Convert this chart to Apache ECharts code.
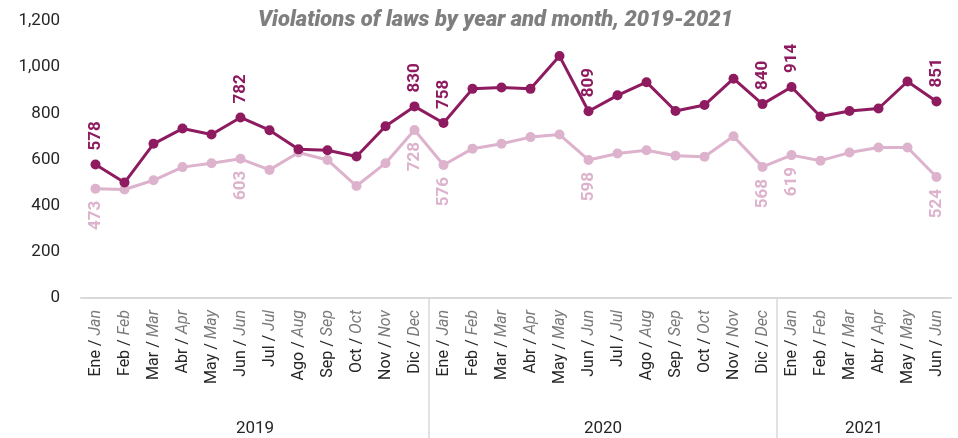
<!DOCTYPE html>
<html>
<head>
<meta charset="utf-8">
<script src="https://cdn.jsdelivr.net/npm/echarts@6/dist/echarts.min.js"></script>
<style>
html,body{margin:0;padding:0;background:#fff}
#chart{width:958px;height:438px}
</style>
</head>
<body>
<div id="chart"></div>
<script>
// meses (es / en) y años
var mesEs = ['Ene','Feb','Mar','Abr','May','Jun','Jul','Ago','Sep','Oct','Nov','Dic'];
var mesEn = ['Jan','Feb','Mar','Apr','May','Jun','Jul','Aug','Sep','Oct','Nov','Dec'];
var years = ['2019','2020','2021'];
var monthsPerYear = [12, 12, 6];

// serie oscura (total) y serie clara
var totalVals = [578,500,668,734,708,782,727,644,640,613,744,830,
                 758,906,912,906,1048,809,878,935,810,836,950,840,
                 914,786,810,821,938,851];
var lightVals = [473,470,510,567,584,603,555,630,598,485,584,728,
                 576,647,668,697,708,598,626,640,616,612,701,568,
                 619,595,630,652,652,524];
// indices con etiqueta de valor
var labelIdx = [0,5,11,12,17,23,24,29];
var yTicks = [0,200,400,600,800,1000,1200];

var dark = '#8E1A5F';
var light = '#DDB2CC';

var cats = [];
var yearCenters = [];
var yearBounds = [];
var start = 0;
for (var y = 0; y < years.length; y++) {
    for (var m = 0; m < monthsPerYear[y]; m++) {
        cats.push(mesEs[m] + ' / ' + mesEn[m]);
    }
    yearCenters.push(start + monthsPerYear[y] / 2);
    start += monthsPerYear[y];
    if (y < years.length - 1) yearBounds.push(start);
}

function mkData(vals, pos, dist) {
    return vals.map(function (v, i) {
        var show = labelIdx.indexOf(i) >= 0;
        return {
            value: v,
            label: {
                show: show,
                position: pos,
                rotate: 90,
                align: pos == 'top' ? 'left' : 'right',
                verticalAlign: 'middle',
                distance: dist
            }
        };
    });
}

var chart = echarts.init(document.getElementById('chart'));
var option = {
    animation: false,
    textStyle: { fontFamily: 'Roboto' },
    title: {
        text: 'Violations of laws by year and month, 2019-2021',
        left: 258,
        top: 9,
        padding: 0,
        textStyle: {
            fontFamily: 'Roboto',
            fontSize: 22,
            fontWeight: 900,
            fontStyle: 'italic',
            color: '#7f7f7f'
        }
    },
    grid: { left: 81, right: 7, top: 21, bottom: 140 },
    xAxis: [{
        type: 'category',
        data: cats,
        boundaryGap: true,
        axisLine: { lineStyle: { color: '#d9d9d9', width: 2 } },
        axisTick: { show: false },
        axisLabel: {
            interval: 0,
            rotate: 90,
            margin: 12,
            formatter: function (v) {
                var p = v.split(' / ');
                return '{a|' + p[0] + ' / }{b|' + p[1] + '}';
            },
            rich: {
                a: { fontFamily: 'Roboto', fontSize: 16, color: '#262626' },
                b: { fontFamily: 'Roboto', fontSize: 16, color: '#7a7a7a', fontStyle: 'italic' }
            }
        }
    }, {
        type: 'value',
        position: 'bottom',
        min: 0,
        max: cats.length,
        axisLine: { show: false },
        splitLine: { show: false },
        axisTick: {
            show: true,
            customValues: yearBounds,
            length: 142,
            lineStyle: { color: '#d9d9d9', width: 1.5 }
        },
        axisLabel: {
            customValues: yearCenters,
            margin: 122,
            fontFamily: 'Roboto',
            fontSize: 17,
            color: '#262626',
            formatter: function (v) {
                var k = yearCenters.indexOf(v);
                return k >= 0 ? years[k] : '';
            }
        }
    }],
    yAxis: {
        type: 'value',
        min: yTicks[0],
        max: yTicks[yTicks.length - 1],
        interval: 200,
        axisLine: { show: false },
        axisTick: { show: false },
        splitLine: { show: false },
        axisLabel: {
            margin: 21,
            fontFamily: 'Roboto',
            fontSize: 17,
            color: '#262626',
            formatter: function (v) { return v.toLocaleString('en-US'); }
        }
    },
    series: [{
        name: 'light',
        type: 'line',
        data: mkData(lightVals, 'bottom', 7),
        symbol: 'circle',
        symbolSize: 10,
        lineStyle: { color: light, width: 3 },
        itemStyle: { color: light },
        label: { color: light, fontFamily: 'Roboto', fontSize: 17, fontWeight: 'bold' },
        z: 2
    }, {
        name: 'dark',
        type: 'line',
        data: mkData(totalVals, 'top', 9),
        symbol: 'circle',
        symbolSize: 10,
        lineStyle: { color: dark, width: 3 },
        itemStyle: { color: dark },
        label: { color: dark, fontFamily: 'Roboto', fontSize: 17, fontWeight: 'bold' },
        z: 3
    }]
};
chart.setOption(option);
</script>
</body>
</html>
